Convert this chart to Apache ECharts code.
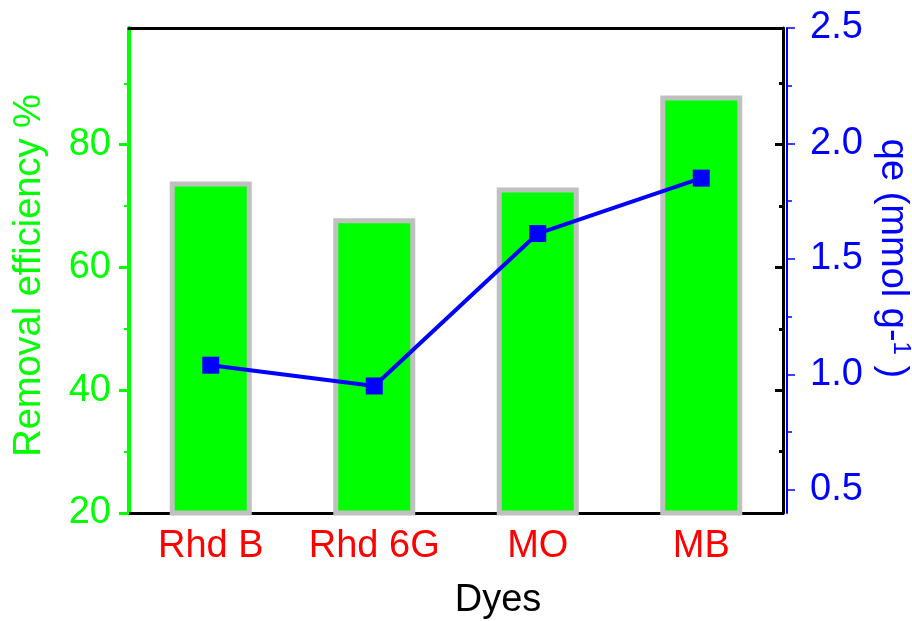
<!DOCTYPE html>
<html>
<head>
<meta charset="utf-8">
<script src="https://cdn.jsdelivr.net/npm/echarts@6/dist/echarts.min.js"></script>
<style>
  html, body { margin: 0; padding: 0; background: #fff; }
  #chart { width: 912px; height: 621px; }
</style>
</head>
<body>
<div id="chart"></div>
<script>
  var dyes = ['Rhd B', 'Rhd 6G', 'MO', 'MB'];
  var removal = [74, 68, 73, 88];
  var qe = [1.04, 0.95, 1.61, 1.85];
  var leftMajor = [20, 40, 60, 80];
  var leftMinor = [30, 50, 70, 90];
  var rightMajor = [0.5, 1.0, 1.5, 2.0, 2.5];
  var rightMinor = [0.75, 1.25, 1.75, 2.25];

  var font = 'Liberation Sans, Arial, sans-serif';
  var myChart = echarts.init(document.getElementById('chart'));

  var option = {
    backgroundColor: '#fff',
    animation: false,
    grid: { left: 129, top: 28, width: 654, height: 485, containLabel: false, outerBoundsMode: 'none' },
    xAxis: [{
      type: 'category',
      position: 'bottom',
      data: dyes,
      axisLine: { lineStyle: { color: '#000', width: 3 } },
      axisTick: { alignWithLabel: true, interval: 0, length: 9, lineStyle: { color: '#000', width: 3 } },
      axisLabel: { interval: 0, color: '#ff0000', fontSize: 38, fontFamily: font, margin: 15 },
      name: 'Dyes',
      nameLocation: 'middle',
      nameGap: 69,
      nameTextStyle: { color: '#000', fontSize: 38, fontFamily: font, padding: [0, 0, 0, 84] }
    }, {
      type: 'category',
      position: 'top',
      data: dyes,
      axisLine: { lineStyle: { color: '#000', width: 3 } },
      axisTick: { alignWithLabel: true, interval: 0, inside: true, length: 9, lineStyle: { color: '#000', width: 3 } },
      axisLabel: { show: false }
    }],
    yAxis: [{
      // left, removal efficiency
      type: 'value',
      position: 'left',
      min: 20, max: 99,
      splitLine: { show: false },
      axisLine: { show: true, lineStyle: { color: '#00ff00', width: 4 } },
      axisTick: { show: true, length: 10, customValues: leftMajor, lineStyle: { color: '#00ff00', width: 3 } },
      axisLabel: { color: '#00ff00', fontSize: 38, fontFamily: font, margin: 18, customValues: leftMajor },
      name: 'Removal efficiency %',
      nameLocation: 'middle',
      nameGap: 80,
      nameTextStyle: { color: '#00ff00', fontSize: 38, fontFamily: font, padding: [0, 10, 0, 0] }
    }, {
      type: 'value',
      position: 'left',
      min: 20, max: 99,
      splitLine: { show: false },
      axisLine: { show: false },
      axisTick: { show: true, length: 5, customValues: leftMinor, lineStyle: { color: '#00ff00', width: 2 } },
      axisLabel: { show: false }
    }, {
      // right frame, mirrors left ticks
      type: 'value',
      position: 'right',
      min: 20, max: 99,
      splitLine: { show: false },
      axisLine: { show: true, lineStyle: { color: '#000', width: 3 } },
      axisTick: { show: true, inside: true, length: 8, customValues: leftMajor, lineStyle: { color: '#000', width: 3 } },
      axisLabel: { show: false }
    }, {
      type: 'value',
      position: 'right',
      min: 20, max: 99,
      splitLine: { show: false },
      axisLine: { show: false },
      axisTick: { show: true, inside: true, length: 4, customValues: leftMinor, lineStyle: { color: '#000', width: 3 } },
      axisLabel: { show: false }
    }, {
      // right, qe
      type: 'value',
      position: 'right',
      offset: 4,
      min: 0.4, max: 2.5,
      splitLine: { show: false },
      axisLine: { show: true, lineStyle: { color: '#0000ff', width: 2 } },
      axisTick: { show: true, length: 8, customValues: rightMajor, lineStyle: { color: '#0000ff', width: 1.5 } },
      axisLabel: {
        color: '#0000ff', fontSize: 38, fontFamily: font, margin: 23, customValues: rightMajor,
        formatter: function (v) { return v.toFixed(1); }
      },
      name: '{a|qe (mmol g-}{s|1}{a| )}',
      nameLocation: 'middle',
      nameRotate: -90,
      nameGap: 70,
      nameTextStyle: {
        padding: [0, 24, 0, 0],
        rich: {
          a: { color: '#0000ff', fontSize: 38, fontFamily: font },
          s: { color: '#0000ff', fontSize: 24, fontFamily: font, verticalAlign: 'top', padding: [0, 0, 16, 0] }
        }
      }
    }, {
      type: 'value',
      position: 'right',
      offset: 4,
      min: 0.4, max: 2.5,
      splitLine: { show: false },
      axisLine: { show: false },
      axisTick: { show: true, length: 5, customValues: rightMinor, lineStyle: { color: '#0000ff', width: 1.5 } },
      axisLabel: { show: false }
    }],
    series: [{
      name: 'Removal efficiency',
      type: 'bar',
      xAxisIndex: 0,
      yAxisIndex: 0,
      barWidth: 82,
      itemStyle: { color: '#00ff00', borderColor: '#c0c0c0', borderWidth: 5 },
      data: removal
    }, {
      name: 'qe',
      type: 'line',
      xAxisIndex: 0,
      yAxisIndex: 4,
      symbol: 'rect',
      symbolSize: 17,
      itemStyle: { color: '#0000ff' },
      lineStyle: { color: '#0000ff', width: 4 },
      z: 5,
      data: qe
    }]
  };
  myChart.setOption(option);
</script>
</body>
</html>
